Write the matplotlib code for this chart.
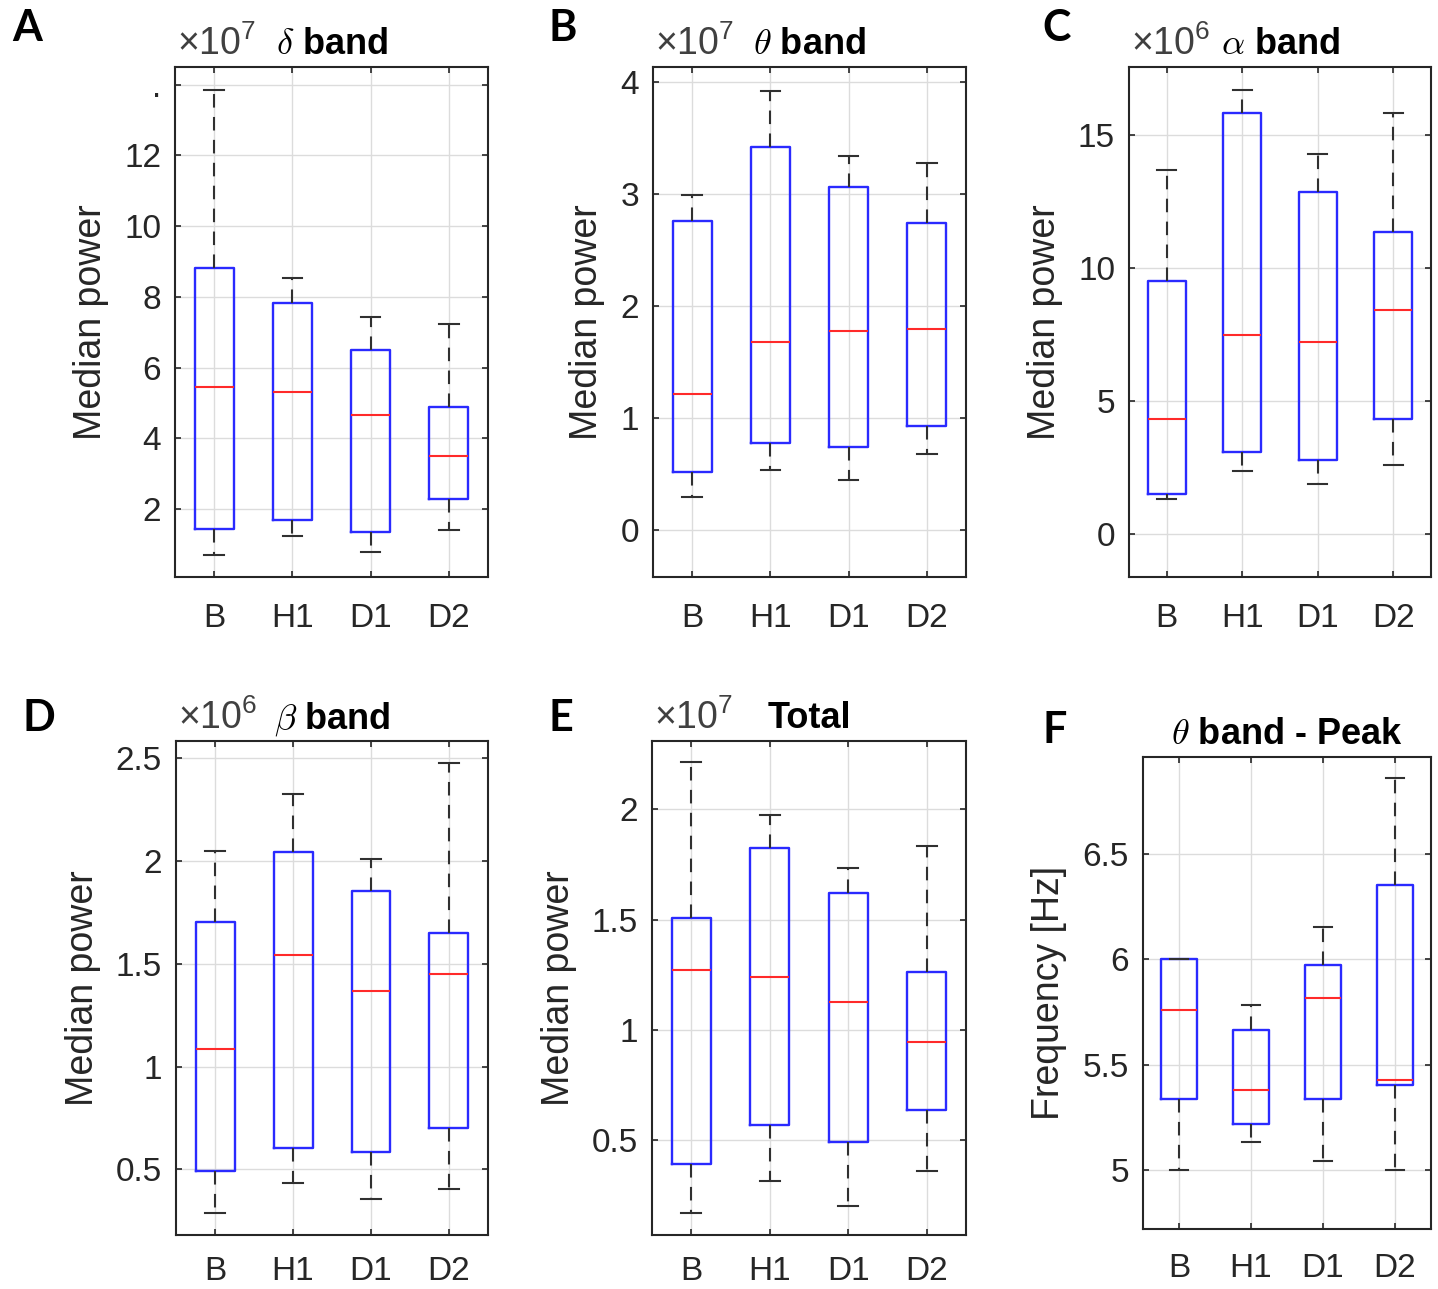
import matplotlib
matplotlib.use("Agg")
import matplotlib.pyplot as plt
from matplotlib.transforms import offset_copy

plt.rcParams['font.family'] = ['Liberation Sans', 'DejaVu Sans']
plt.rcParams['mathtext.fontset'] = 'custom'
plt.rcParams['mathtext.rm'] = 'Liberation Sans'
plt.rcParams['mathtext.it'] = 'Liberation Sans:italic'
plt.rcParams['mathtext.bf'] = 'Liberation Sans:bold'

categories = ['B', 'H1', 'D1', 'D2']

# ---- data ----
delta_whislo = [0.70, 1.24, 0.80, 1.42]
delta_q1 = [1.44, 1.70, 1.35, 2.29]
delta_med = [5.44, 5.30, 4.65, 3.49]
delta_q3 = [8.81, 7.84, 6.50, 4.89]
delta_whishi = [13.84, 8.54, 7.44, 7.23]

theta_whislo = [0.295, 0.535, 0.447, 0.679]
theta_q1 = [0.513, 0.779, 0.738, 0.93]
theta_med = [1.214, 1.675, 1.771, 1.793]
theta_q3 = [2.753, 3.413, 3.055, 2.734]
theta_whishi = [2.985, 3.92, 3.336, 3.273]

alpha_whislo = [1.32, 2.38, 1.88, 2.62]
alpha_q1 = [1.52, 3.11, 2.81, 4.32]
alpha_med = [4.32, 7.50, 7.24, 8.43]
alpha_q3 = [9.50, 15.84, 12.87, 11.35]
alpha_whishi = [13.68, 16.68, 14.27, 15.81]

beta_whislo = [0.287, 0.434, 0.357, 0.404]
beta_q1 = [0.494, 0.604, 0.585, 0.702]
beta_med = [1.085, 1.545, 1.368, 1.453]
beta_q3 = [1.706, 2.047, 1.853, 1.651]
beta_whishi = [2.051, 2.325, 2.009, 2.479]

total_whislo = [0.172, 0.314, 0.202, 0.360]
total_q1 = [0.393, 0.569, 0.490, 0.639]
total_med = [1.273, 1.240, 1.125, 0.944]
total_q3 = [1.507, 1.824, 1.621, 1.261]
total_whishi = [2.214, 1.974, 1.735, 1.833]

peak_whislo = [5.0, 5.133, 5.044, 5.0]
peak_q1 = [5.336, 5.218, 5.336, 5.402]
peak_med = [5.76, 5.378, 5.817, 5.428]
peak_q3 = [6.0, 5.664, 5.972, 6.352]
peak_whishi = [6.0, 5.784, 6.153, 6.86]

yticks_A = [2, 4, 6, 8, 10, 12, 14]
ytick_labels_A = ['2', '4', '6', '8', '10', '12', '.']
yticks_B = [0, 1, 2, 3, 4]
yticks_C = [0, 5, 10, 15]
yticks_D = [0.5, 1, 1.5, 2, 2.5]
yticks_E = [0.5, 1, 1.5, 2]
yticks_F = [5, 5.5, 6, 6.5]

W, H = 1438, 1289
fig = plt.figure(figsize=(W / 100, H / 100), dpi=100)

panels = [
    dict(letter='A', rect=(175, 67, 488, 577), data=(delta_whislo, delta_q1, delta_med, delta_q3, delta_whishi),
         ylim=(0.08, 14.5), yticks=yticks_A, ylabels=ytick_labels_A, exp='7', title=r'$\delta$ band',
         ylabel='Median power', letter_xy=(12, 28), xpad=19),
    dict(letter='B', rect=(653, 67, 966, 577), data=(theta_whislo, theta_q1, theta_med, theta_q3, theta_whishi),
         ylim=(-0.42, 4.13), yticks=yticks_B, ylabels=None, exp='7', title=r'$\theta$ band',
         ylabel='Median power', letter_xy=(549, 28), xpad=19),
    dict(letter='C', rect=(1129, 67, 1431, 577), data=(alpha_whislo, alpha_q1, alpha_med, alpha_q3, alpha_whishi),
         ylim=(-1.6, 17.55), yticks=yticks_C, ylabels=None, exp='6', title=r'$\alpha$ band',
         ylabel='Median power', letter_xy=(1042, 28), xpad=19),
    dict(letter='D', rect=(176, 741, 488, 1235), data=(beta_whislo, beta_q1, beta_med, beta_q3, beta_whishi),
         ylim=(0.18, 2.585), yticks=yticks_D, ylabels=None, exp='6', title=r'$\beta$ band',
         ylabel='Median power', letter_xy=(22, 718), xpad=15),
    dict(letter='E', rect=(652, 741, 966, 1235), data=(total_whislo, total_q1, total_med, total_q3, total_whishi),
         ylim=(0.07, 2.31), yticks=yticks_E, ylabels=None, exp='7', title='Total',
         ylabel='Median power', letter_xy=(549, 718), xpad=15),
    dict(letter='F', rect=(1143, 757, 1431, 1229), data=(peak_whislo, peak_q1, peak_med, peak_q3, peak_whishi),
         ylim=(4.72, 6.96), yticks=yticks_F, ylabels=None, exp=None, title=r'$\theta$ band - Peak',
         ylabel='Frequency [Hz]', letter_xy=(1042, 730), xpad=17),
]

dark = '#262626'

for p in panels:
    x0, y0, x1, y1 = p['rect']
    ax = fig.add_axes([x0 / W, 1 - y1 / H, (x1 - x0) / W, (y1 - y0) / H])
    wl, q1, md, q3, wh = p['data']
    stats = []
    for i, c in enumerate(categories):
        stats.append(dict(label=c, whislo=wl[i], q1=q1[i], med=md[i], q3=q3[i], whishi=wh[i], fliers=[]))
    ax.bxp(stats, positions=[1, 2, 3, 4], widths=0.5, showfliers=False,
           boxprops=dict(color='#2a2aff', linewidth=1.7),
           medianprops=dict(color='#ff2a2a', linewidth=1.5),
           whiskerprops=dict(color='#303030', linewidth=1.5, linestyle=(0, (6.5, 4.5))),
           capprops=dict(color='#303030', linewidth=1.5),
           capwidths=0.25, zorder=3)
    ax.set_xlim(0.5, 4.5)
    ax.set_ylim(*p['ylim'])
    ax.set_xticks([1, 2, 3, 4])
    ax.set_xticklabels(categories)
    ax.set_yticks(p['yticks'])
    if p['ylabels'] is not None:
        ax.set_yticklabels(p['ylabels'])
    else:
        ax.set_yticklabels(['%g' % v for v in p['yticks']])
    ax.grid(True, color='#dcdcdc', linewidth=1.0, zorder=0)
    ax.set_axisbelow(True)
    for s in ax.spines.values():
        s.set_color(dark)
        s.set_linewidth(1.5)
    ax.tick_params(axis='both', direction='in', length=4, width=1.2, color=dark,
                   labelcolor=dark, labelsize=24, top=True, right=True)
    ax.tick_params(axis='y', pad=10)
    ax.tick_params(axis='x', pad=p['xpad'])
    ax.set_ylabel(p['ylabel'], fontsize=27, color=dark, labelpad=11)
    ax.set_title(p['title'], fontsize=26, fontweight='bold', pad=9, color='black',
                 math_fontfamily='cm')
    if p['exp'] is not None:
        ax.text(0.0, 1.0, r'$\times$10$^{%s}$' % p['exp'],
                transform=offset_copy(ax.transAxes, fig=fig, x=2, y=12, units='dots'),
                ha='left', va='baseline', fontsize=27, color='#404040')
    lx, ly = p['letter_xy']
    fig.text(lx / W, 1 - ly / H, p['letter'], fontsize=31, fontweight='bold',
             family=['Lato', 'DejaVu Sans'], ha='left', va='center', color='black')

fig.savefig('out.png', dpi=100, facecolor='white')
